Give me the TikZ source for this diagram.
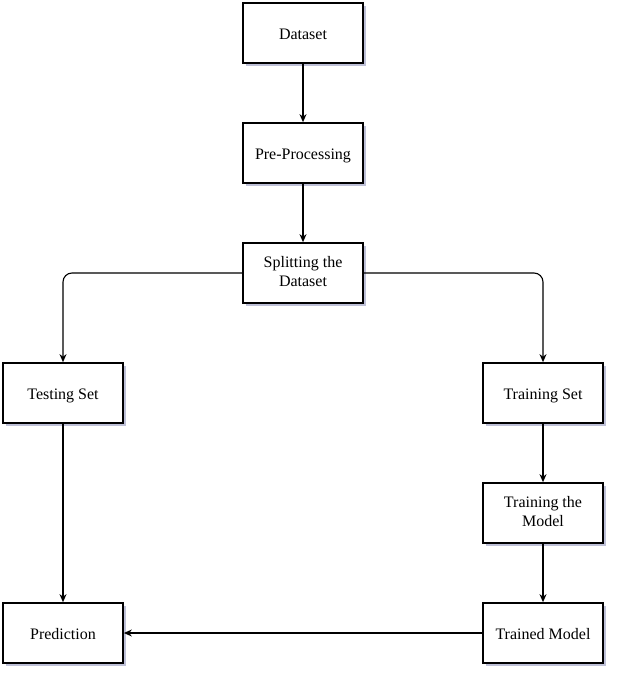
\documentclass[tikz,border=0pt]{standalone}
\usepackage{fontspec}
\setmainfont{Liberation Serif}
\usepackage{tikz}
\usetikzlibrary{arrows.meta, shadows}
\usepackage{xcolor}
\definecolor{ombra}{RGB}{190,192,215}
\newcommand{\altezza}{\rule[-3pt]{0pt}{19pt}}

\begin{document}
\begin{tikzpicture}[x=1pt, y=-1pt,
    blocco/.style={draw, line width=1.7pt, fill=white, minimum width=120pt, minimum height=60pt,
      align=center, font=\fontsize{16}{19}\selectfont,
      execute at begin node=\altezza, execute at end node=\altezza,
      drop shadow={shadow xshift=3pt, shadow yshift=-3pt, fill=ombra, opacity=1}},
    bloccodue/.style={blocco, execute at begin node=\rule{0pt}{22pt}},
    freccia/.style={line width=1.1pt, -{Stealth[length=8pt, width=7pt]}, rounded corners=9pt}]
  \useasboundingbox (0,0) rectangle (617,677);
  % colonna centrale
  \node[blocco] (dataset) at (303,33) {Dataset};
  \node[blocco] (prepro) at (303,153) {Pre-Processing};
  \node[bloccodue] (split) at (303,273) {Splitting the\\Dataset};
  % ramo sinistro e destro
  \node[blocco] (test) at (63,393) {Testing Set};
  \node[blocco] (train) at (543,393) {Training Set};
  \node[bloccodue] (trmod) at (543,513) {Training the\\Model};
  \node[blocco] (pred) at (63,633) {Prediction};
  \node[blocco] (trained) at (543,633) {Trained Model};
  % collegamenti
  \draw[freccia] (dataset) -- (prepro);
  \draw[freccia] (prepro) -- (split);
  \draw[freccia] (split.west) -| (test.north);
  \draw[freccia] (split.east) -| (train.north);
  \draw[freccia] (train) -- (trmod);
  \draw[freccia] (trmod) -- (trained);
  \draw[freccia] (test) -- (pred);
  \draw[freccia] (trained) -- (pred);
\end{tikzpicture}
\end{document}
